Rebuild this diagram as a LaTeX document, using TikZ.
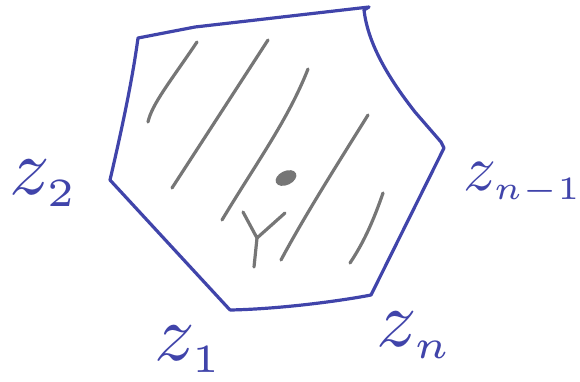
\documentclass[tikz,border=0pt]{standalone}
\definecolor{penblue}{RGB}{64,68,170}
\definecolor{pengray}{RGB}{118,118,118}

\begin{document}
\begin{tikzpicture}[
    x=1pt,
    y=-1pt,
    outline/.style={draw=penblue, line width=3.2pt, line cap=round, line join=round},
    hatch/.style={draw=pengray, line width=3.2pt, line cap=round, line join=round},
    zlabel/.style={text=penblue, inner sep=0pt, anchor=base west, scale=#1},
    zlabel/.default=8
]

    % Fix the page size
    \useasboundingbox (0,0) rectangle (580,381);

    % Define the corners of the polygon
    \coordinate (Z1) at (230,310);
    \coordinate (Z2) at (110,180);
    \coordinate (TL) at (138,38);
    \coordinate (TR) at (369,7);
    \coordinate (Zm) at (444,148);
    \coordinate (Zn) at (371,295);

    % Draw the outline
    \path[outline] (Z1) -- (Z2)
        .. controls (124,120) and (133,75) .. (TL)
        -- (195,27) -- (TR) -- (364,10)
        .. controls (368,45) and (390,80) .. (415,112)
        -- (441,142) -- (Zm)
        -- (Zn)
        .. controls (340,301) and (280,309) .. (Z1);

    % Draw the hatching
    \path[hatch] (197,42) .. controls (170,82) and (152,104) .. (148,122);
    \path[hatch] (268,40) -- (172,188);
    \path[hatch] (308,69) .. controls (288,120) and (255,165) .. (222,220);
    \path[hatch] (368,115) .. controls (340,160) and (305,215) .. (281,260);
    \path[hatch] (383,193) .. controls (372,225) and (362,245) .. (350,263);

    % The small mark and the point
    \coordinate (Y) at (257,238);
    \path[hatch] (243,212) -- (Y) -- (285,213);
    \path[hatch] (Y) -- (254,267);
    \coordinate (P) at (286,178);
    \fill[pengray, rotate around={25:(P)}] (P) ellipse (11 and 7);

    % Label the corners
    \node[zlabel=8] (L2) at (8,194) {$z_{\scriptscriptstyle 2}$};
    \node[zlabel=6.5] (Lm) at (462,190) {$z_{\scriptscriptstyle n-1}$};
    \node[zlabel] (L1) at (153,360) {$z_{\scriptscriptstyle 1}$};
    \node[zlabel] (Ln) at (375,346) {$z_{\scriptscriptstyle n}$};

\end{tikzpicture}
\end{document}
